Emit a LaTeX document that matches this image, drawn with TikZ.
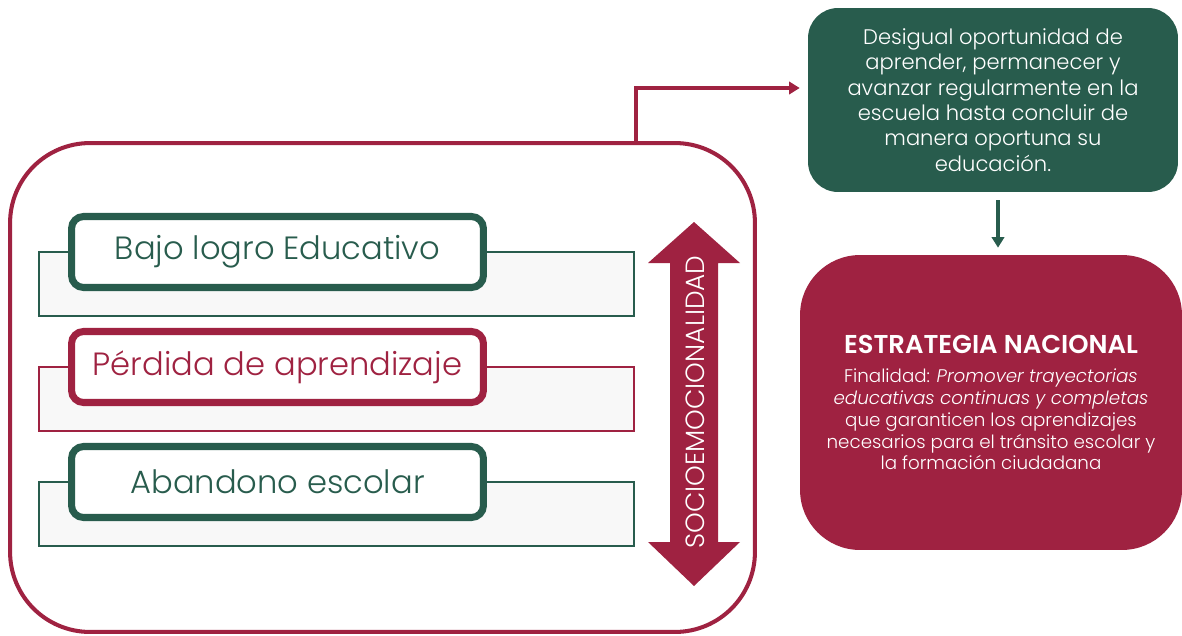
\documentclass[tikz,border=0pt]{standalone}
\usepackage{fontspec}
\setmainfont{Poppins}[UprightFont=* Light, ItalicFont=* Light Italic, BoldFont=* SemiBold]
\usetikzlibrary{arrows.meta}
\definecolor{guinda}{HTML}{9F2241}
\definecolor{verde}{HTML}{285C4D}
\definecolor{fondo}{HTML}{F8F8F8}
\tikzset{
  etiqueta/.style={draw=#1, line width=4pt, rounded corners=0.24cm, fill=white, text=#1,
    minimum width=8.24cm, minimum height=1.42cm, font=\fontsize{18.3}{21}\selectfont},
  barra/.style={draw=#1, line width=0.8pt, fill=fondo, minimum width=11.9cm, minimum height=1.28cm},
  caja/.style={fill=#1, text=white, align=center, inner sep=0pt},
}
\begin{document}
\begin{tikzpicture}[x=0.02cm, y=-0.02cm]
  \useasboundingbox (0,0) rectangle (1182,635);
  \node[draw=guinda, line width=2.3pt, rounded corners=1.6cm, minimum width=14.9cm, minimum height=9.78cm] (marco) at (382.5,387.5) {};
  \node[barra=verde] (barra1) at (336.5,284) {};
  \node[etiqueta=verde] (bajo) at (277.5,252) {Bajo logro Educativo};
  \node[barra=guinda] (barra2) at (336.5,399) {};
  \node[etiqueta=guinda] (perdida) at (277.5,367) {Pérdida de aprendizaje};
  \node[barra=verde] (barra3) at (336.5,514) {};
  \node[etiqueta=verde] (abandono) at (277.5,482) {Abandono escolar};
  \fill[guinda] (694,222) -- (740,263) -- (718,263) -- (718,542) -- (740,542) -- (694,586)
    -- (648,542) -- (670,542) -- (670,263) -- (648,263) -- cycle;
  \node[rotate=90, text=white, font=\fontsize{15}{18}\selectfont] (socio) at (695,402) {SOCIOEMOCIONALIDAD};
  \node[caja=verde, rounded corners=0.6cm, minimum width=7.4cm, minimum height=3.68cm,
    font=\fontsize{12}{14.4}\selectfont] (causa) at (993,100)
    {Desigual oportunidad de\\ aprender, permanecer y\\ avanzar regularmente en la\\
     escuela hasta concluir de\\ manera oportuna su\\ educación.};
  \node[caja=guinda, rounded corners=1.2cm, minimum width=7.64cm, minimum height=5.9cm,
    font=\fontsize{10.4}{12.5}\selectfont] (estrategia) at (991,402.5)
    {{\bfseries\fontsize{14.7}{16}\selectfont ESTRATEGIA NACIONAL}\\[4pt]
     Finalidad: \textit{Promover trayectorias}\\ \textit{educativas continuas y completas}\\
     que garanticen los aprendizajes\\ necesarios para el tránsito escolar y\\ la formación ciudadana};
  \coordinate (codo) at (636,88);
  \draw[guinda, line width=2pt, -{Triangle[length=6pt,width=7pt]}]
    (marco.north -| codo) -- (codo) -- ([xshift=-0.16cm]causa.west |- codo);
  \draw[verde, line width=1.8pt, -{Triangle[length=6pt,width=7pt]}, shorten <=0.16cm, shorten >=0.14cm]
    ([xshift=0.1cm]causa.south) -- ([xshift=0.1cm]causa.south |- estrategia.north);
\end{tikzpicture}
\end{document}
